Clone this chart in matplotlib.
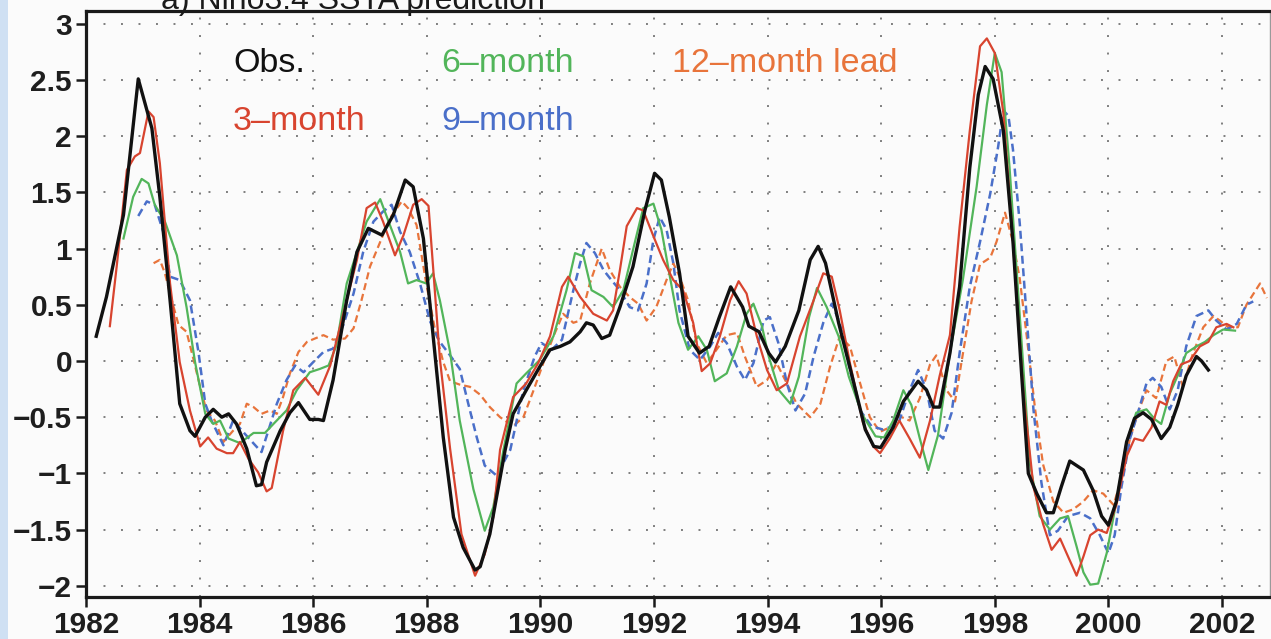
import matplotlib
matplotlib.use("Agg")
import matplotlib.pyplot as plt
from matplotlib.patches import Rectangle

plt.rcParams['font.family'] = ['Liberation Sans', 'DejaVu Sans']

# ---------------- data ----------------
obs_t = [1982.18, 1982.36, 1982.66, 1982.92, 1983.16, 1983.30, 1983.48, 1983.65, 1983.83, 1983.92,
         1984.10, 1984.24, 1984.39, 1984.51, 1984.65, 1984.83, 1985.00, 1985.09, 1985.18, 1985.42,
         1985.59, 1985.74, 1985.94, 1986.09, 1986.18, 1986.35, 1986.59, 1986.77, 1986.97, 1987.21,
         1987.41, 1987.62, 1987.76, 1987.94, 1988.11, 1988.29, 1988.47, 1988.64, 1988.85, 1988.94,
         1989.11, 1989.38, 1989.52, 1989.75, 1989.99, 1990.17, 1990.35, 1990.52, 1990.70, 1990.81,
         1990.93, 1991.08, 1991.22, 1991.40, 1991.63, 1991.84, 1992.01, 1992.13, 1992.27, 1992.45,
         1992.60, 1992.80, 1992.97, 1993.15, 1993.35, 1993.56, 1993.67, 1993.85, 1994.02, 1994.14,
         1994.31, 1994.55, 1994.75, 1994.89, 1995.02, 1995.25, 1995.49, 1995.72, 1995.87, 1995.99,
         1996.21, 1996.39, 1996.65, 1996.80, 1996.92, 1997.03, 1997.21, 1997.38, 1997.56, 1997.71,
         1997.83, 1997.97, 1998.15, 1998.32, 1998.47, 1998.59, 1998.74, 1998.91, 1999.03, 1999.17,
         1999.32, 1999.56, 1999.73, 1999.88, 2000.00, 2000.14, 2000.32, 2000.46, 2000.61, 2000.76,
         2000.93, 2001.08, 2001.22, 2001.37, 2001.55, 2001.64, 2001.76]
obs_v = [0.22, 0.57, 1.30, 2.51, 2.07, 1.46, 0.54, -0.38, -0.62, -0.67,
         -0.50, -0.43, -0.50, -0.47, -0.56, -0.78, -1.11, -1.10, -0.90, -0.62,
         -0.46, -0.37, -0.52, -0.52, -0.53, -0.17, 0.54, 0.97, 1.18, 1.12,
         1.30, 1.61, 1.55, 1.09, 0.23, -0.68, -1.39, -1.66, -1.86, -1.83,
         -1.54, -0.79, -0.47, -0.26, -0.05, 0.10, 0.13, 0.17, 0.26, 0.34,
         0.32, 0.20, 0.23, 0.48, 0.84, 1.34, 1.67, 1.61, 1.28, 0.78,
         0.22, 0.07, 0.13, 0.39, 0.66, 0.48, 0.31, 0.26, 0.07, -0.01,
         0.13, 0.45, 0.90, 1.02, 0.87, 0.34, -0.14, -0.61, -0.76, -0.77,
         -0.59, -0.36, -0.18, -0.26, -0.41, -0.41, 0.07, 0.66, 1.72, 2.37,
         2.62, 2.51, 2.05, 1.06, -0.10, -1.00, -1.18, -1.35, -1.35, -1.12,
         -0.89, -0.97, -1.15, -1.38, -1.46, -1.25, -0.72, -0.51, -0.46, -0.52,
         -0.69, -0.59, -0.39, -0.13, 0.04, 0.00, -0.08]

m3_t = [1982.42, 1982.54, 1982.72, 1982.86, 1982.95, 1983.10, 1983.19, 1983.30, 1983.48, 1983.65,
        1983.83, 1984.01, 1984.15, 1984.30, 1984.48, 1984.59, 1984.71, 1984.86, 1985.03, 1985.18,
        1985.27, 1985.47, 1985.65, 1985.86, 1986.09, 1986.30, 1986.53, 1986.77, 1986.94, 1987.09,
        1987.23, 1987.44, 1987.59, 1987.76, 1987.91, 1988.03, 1988.11, 1988.23, 1988.41, 1988.61,
        1988.85, 1989.02, 1989.17, 1989.29, 1989.52, 1989.75, 1989.96, 1990.17, 1990.38, 1990.49,
        1990.70, 1990.93, 1991.17, 1991.28, 1991.40, 1991.52, 1991.70, 1991.81, 1991.99, 1992.16,
        1992.34, 1992.51, 1992.69, 1992.84, 1992.99, 1993.16, 1993.34, 1993.49, 1993.63, 1993.81,
        1993.99, 1994.16, 1994.34, 1994.57, 1994.81, 1994.98, 1995.13, 1995.27, 1995.45, 1995.68,
        1995.86, 1995.98, 1996.15, 1996.32, 1996.50, 1996.68, 1996.86, 1997.03, 1997.21, 1997.38,
        1997.56, 1997.74, 1997.86, 1998.00, 1998.15, 1998.32, 1998.50, 1998.68, 1998.85, 1999.00,
        1999.15, 1999.29, 1999.44, 1999.56, 1999.68, 1999.82, 1999.97, 2000.14, 2000.32, 2000.46,
        2000.61, 2000.76, 2000.90, 2001.02, 2001.14, 2001.28, 2001.43, 2001.61, 2001.76, 2001.90,
        2002.08, 2002.20]
m3_v = [0.31, 0.84, 1.70, 1.82, 1.85, 2.22, 2.17, 1.76, 0.69, -0.01,
        -0.44, -0.76, -0.68, -0.78, -0.82, -0.82, -0.72, -0.87, -0.99, -1.16,
        -1.13, -0.62, -0.26, -0.15, -0.30, -0.04, 0.42, 0.90, 1.36, 1.41,
        1.24, 0.94, 1.12, 1.39, 1.44, 1.38, 0.84, 0.02, -0.78, -1.54,
        -1.91, -1.72, -1.39, -0.79, -0.32, -0.20, -0.02, 0.22, 0.66, 0.75,
        0.57, 0.42, 0.36, 0.45, 0.81, 1.20, 1.36, 1.34, 1.11, 0.90,
        0.72, 0.63, 0.34, -0.09, -0.02, 0.22, 0.54, 0.71, 0.60, 0.22,
        -0.08, -0.26, -0.20, 0.22, 0.54, 0.78, 0.75, 0.45, -0.02, -0.55,
        -0.76, -0.82, -0.69, -0.53, -0.69, -0.86, -0.53, -0.13, 0.23, 1.19,
        2.05, 2.80, 2.87, 2.74, 2.21, 1.06, -0.26, -1.12, -1.45, -1.68,
        -1.58, -1.74, -1.91, -1.74, -1.55, -1.50, -1.53, -1.28, -0.85, -0.69,
        -0.71, -0.59, -0.36, -0.39, -0.18, -0.03, 0.00, 0.13, 0.17, 0.30,
        0.33, 0.30]

m6_t = [1982.66, 1982.83, 1982.98, 1983.10, 1983.21, 1983.39, 1983.60, 1983.77, 1983.92, 1984.10,
        1984.24, 1984.36, 1984.51, 1984.71, 1984.95, 1985.15, 1985.30, 1985.53, 1985.71, 1985.94,
        1986.12, 1986.27, 1986.41, 1986.59, 1986.77, 1986.94, 1987.18, 1987.35, 1987.53, 1987.67,
        1987.82, 1987.99, 1988.11, 1988.23, 1988.41, 1988.58, 1988.82, 1989.02, 1989.17, 1989.35,
        1989.58, 1989.75, 1989.99, 1990.23, 1990.46, 1990.61, 1990.76, 1990.90, 1991.11, 1991.28,
        1991.46, 1991.66, 1991.81, 1991.99, 1992.13, 1992.28, 1992.43, 1992.60, 1992.78, 1992.93,
        1993.07, 1993.28, 1993.46, 1993.63, 1993.75, 1993.90, 1994.02, 1994.20, 1994.40, 1994.55,
        1994.73, 1994.87, 1995.04, 1995.25, 1995.43, 1995.66, 1995.90, 1996.05, 1996.21, 1996.39,
        1996.53, 1996.68, 1996.83, 1997.00, 1997.21, 1997.44, 1997.68, 1997.86, 1998.00, 1998.12,
        1998.26, 1998.44, 1998.62, 1998.79, 1998.97, 1999.15, 1999.29, 1999.44, 1999.56, 1999.68,
        1999.82, 1999.97, 2000.14, 2000.32, 2000.49, 2000.67, 2000.82, 2000.93, 2001.08, 2001.22,
        2001.37, 2001.55, 2001.70, 2001.85, 2002.02, 2002.23]
m6_v = [1.09, 1.46, 1.62, 1.58, 1.39, 1.24, 0.94, 0.48, -0.01, -0.47,
        -0.56, -0.53, -0.69, -0.73, -0.64, -0.64, -0.56, -0.44, -0.26, -0.10,
        -0.07, -0.04, 0.14, 0.69, 0.97, 1.24, 1.44, 1.21, 0.97, 0.69,
        0.72, 0.69, 0.78, 0.54, 0.08, -0.53, -1.14, -1.51, -1.30, -0.79,
        -0.20, -0.11, 0.01, 0.22, 0.63, 0.96, 0.93, 0.63, 0.57, 0.48,
        0.63, 1.05, 1.36, 1.40, 1.17, 0.75, 0.34, 0.10, 0.22, 0.10,
        -0.18, -0.11, 0.13, 0.42, 0.51, 0.31, 0.04, -0.26, -0.38, -0.14,
        0.39, 0.65, 0.48, 0.22, -0.14, -0.47, -0.67, -0.68, -0.53, -0.26,
        -0.39, -0.69, -0.97, -0.66, 0.07, 0.73, 1.55, 2.28, 2.74, 2.57,
        1.72, 0.40, -0.92, -1.38, -1.50, -1.40, -1.38, -1.65, -1.88, -1.99,
        -1.98, -1.71, -1.25, -0.72, -0.46, -0.43, -0.52, -0.56, -0.29, -0.13,
        0.07, 0.13, 0.17, 0.23, 0.28, 0.27]

m9_t = [1982.92, 1983.07, 1983.21, 1983.36, 1983.48, 1983.65, 1983.83, 1983.98, 1984.10, 1984.21,
        1984.42, 1984.59, 1984.80, 1984.98, 1985.09, 1985.21, 1985.36, 1985.53, 1985.68, 1985.83,
        1986.00, 1986.18, 1986.35, 1986.53, 1986.71, 1986.88, 1987.06, 1987.23, 1987.38, 1987.53,
        1987.70, 1987.88, 1988.06, 1988.23, 1988.41, 1988.58, 1988.73, 1988.88, 1989.02, 1989.23,
        1989.47, 1989.70, 1989.90, 1990.02, 1990.20, 1990.38, 1990.58, 1990.70, 1990.81, 1990.96,
        1991.11, 1991.25, 1991.40, 1991.57, 1991.72, 1991.87, 1991.99, 1992.10, 1992.22, 1992.34,
        1992.45, 1992.63, 1992.81, 1992.99, 1993.13, 1993.28, 1993.46, 1993.60, 1993.75, 1993.93,
        1994.04, 1994.19, 1994.34, 1994.49, 1994.66, 1994.81, 1994.98, 1995.13, 1995.27, 1995.45,
        1995.63, 1995.83, 1996.03, 1996.15, 1996.32, 1996.50, 1996.65, 1996.80, 1996.94, 1997.09,
        1997.24, 1997.38, 1997.56, 1997.74, 1997.92, 1998.06, 1998.15, 1998.24, 1998.32, 1998.44,
        1998.56, 1998.68, 1998.82, 1998.97, 1999.11, 1999.29, 1999.50, 1999.68, 1999.85, 2000.00,
        2000.11, 2000.23, 2000.38, 2000.52, 2000.67, 2000.78, 2000.93, 2001.08, 2001.22, 2001.37,
        2001.55, 2001.76, 2001.90, 2002.08, 2002.26, 2002.43, 2002.55]
m9_v = [1.29, 1.42, 1.39, 1.15, 0.75, 0.72, 0.54, 0.08, -0.38, -0.53,
        -0.75, -0.53, -0.65, -0.75, -0.81, -0.62, -0.38, -0.17, -0.04, -0.10,
        -0.01, 0.08, 0.11, 0.32, 0.60, 0.97, 1.24, 1.33, 1.39, 1.15,
        0.97, 0.69, 0.35, 0.17, 0.05, -0.07, -0.38, -0.68, -0.93, -1.02,
        -0.79, -0.26, 0.04, 0.16, 0.10, 0.19, 0.63, 0.87, 1.05, 0.96,
        0.81, 0.72, 0.63, 0.48, 0.45, 0.69, 1.08, 1.28, 1.17, 0.87,
        0.45, 0.10, 0.01, 0.13, 0.25, 0.16, -0.05, -0.17, -0.02, 0.36,
        0.39, 0.16, -0.20, -0.44, -0.29, 0.04, 0.34, 0.51, 0.34, -0.08,
        -0.44, -0.58, -0.61, -0.59, -0.53, -0.26, -0.08, -0.26, -0.62, -0.69,
        -0.46, 0.07, 0.66, 1.06, 1.49, 1.91, 2.23, 2.18, 1.88, 1.22,
        0.40, -0.43, -1.08, -1.55, -1.51, -1.38, -1.35, -1.40, -1.55, -1.71,
        -1.55, -1.12, -0.69, -0.46, -0.20, -0.15, -0.23, -0.43, -0.26, 0.13,
        0.40, 0.45, 0.36, 0.28, 0.33, 0.50, 0.53]

m12_t = [1983.19, 1983.30, 1983.39, 1983.51, 1983.63, 1983.77, 1983.89, 1984.01, 1984.12, 1984.27,
         1984.42, 1984.59, 1984.71, 1984.83, 1984.95, 1985.09, 1985.24, 1985.36, 1985.47, 1985.59,
         1985.74, 1985.89, 1986.03, 1986.18, 1986.35, 1986.56, 1986.71, 1986.85, 1987.00, 1987.18,
         1987.35, 1987.56, 1987.67, 1987.82, 1987.99, 1988.14, 1988.29, 1988.41, 1988.58, 1988.76,
         1988.94, 1989.11, 1989.29, 1989.52, 1989.70, 1989.88, 1990.05, 1990.23, 1990.40, 1990.58,
         1990.70, 1990.87, 1991.08, 1991.22, 1991.40, 1991.57, 1991.72, 1991.87, 1992.04, 1992.22,
         1992.34, 1992.45, 1992.60, 1992.75, 1992.93, 1993.10, 1993.28, 1993.46, 1993.60, 1993.81,
         1993.99, 1994.16, 1994.34, 1994.51, 1994.75, 1994.93, 1995.10, 1995.27, 1995.45, 1995.63,
         1995.80, 1995.98, 1996.15, 1996.32, 1996.50, 1996.68, 1996.86, 1996.97, 1997.15, 1997.30,
         1997.44, 1997.59, 1997.74, 1997.92, 1998.03, 1998.18, 1998.32, 1998.44, 1998.56, 1998.71,
         1998.85, 1999.03, 1999.21, 1999.38, 1999.56, 1999.73, 1999.91, 2000.09, 2000.23, 2000.38,
         2000.52, 2000.67, 2000.84, 2001.02, 2001.16, 2001.31, 2001.49, 2001.67, 2001.85, 2001.96,
         2002.11, 2002.28, 2002.43, 2002.67, 2002.79]
m12_v = [0.87, 0.90, 0.78, 0.54, 0.32, 0.26, 0.02, -0.23, -0.44, -0.53,
         -0.72, -0.62, -0.56, -0.38, -0.41, -0.47, -0.44, -0.47, -0.32, -0.11,
         0.08, 0.17, 0.20, 0.23, 0.19, 0.20, 0.29, 0.54, 0.84, 1.06,
         1.27, 1.42, 1.36, 1.21, 0.69, 0.29, -0.01, -0.18, -0.21, -0.23,
         -0.30, -0.41, -0.50, -0.58, -0.50, -0.26, -0.02, 0.22, 0.42, 0.34,
         0.36, 0.69, 1.00, 0.81, 0.66, 0.57, 0.51, 0.36, 0.48, 0.72,
         0.87, 0.75, 0.54, 0.16, -0.02, 0.10, 0.23, 0.25, 0.04, -0.23,
         -0.17, -0.02, -0.20, -0.38, -0.50, -0.38, -0.05, 0.22, 0.13, -0.20,
         -0.50, -0.63, -0.59, -0.49, -0.53, -0.33, -0.03, 0.05, -0.26, -0.36,
         0.07, 0.53, 0.86, 0.92, 1.06, 1.32, 1.06, 0.73, 0.23, -0.43,
         -0.92, -1.25, -1.35, -1.32, -1.25, -1.15, -1.18, -1.28, -1.05, -0.69,
         -0.46, -0.26, -0.33, 0.00, 0.04, -0.23, 0.07, 0.30, 0.40, 0.36,
         0.30, 0.30, 0.50, 0.69, 0.56]

year_ticks = [1982, 1984, 1986, 1988, 1990, 1992, 1994, 1996, 1998, 2000, 2002]
value_ticks = [3, 2.5, 2, 1.5, 1, 0.5, 0, -0.5, -1, -1.5, -2]
value_tick_labels = ['3', '2.5', '2', '1.5', '1', '0.5', '0', '\u22120.5', '\u22121', '\u22121.5', '\u22122']
title_text = 'a) Nino3.4 SSTA prediction'

# ---------------- figure ----------------
W, H = 1271, 639
fig = plt.figure(figsize=(W / 100, H / 100), dpi=100, facecolor='#fbfbfb')

# light-blue slide background strip on the left edge
fig.patches.append(Rectangle((0, 0), 8 / W, 1, transform=fig.transFigure,
                             facecolor='#cfe0f3', edgecolor='none', zorder=0))

ax_l, ax_r, ax_b, ax_t = 86, 1270, 597, 11
ax = fig.add_axes([ax_l / W, (H - ax_b) / H, (ax_r - ax_l) / W, (ax_b - ax_t) / H])
ax.set_facecolor('#fbfbfb')
px_per_year = 56.8
px_per_unit = 112.4
zero_y = 361
ax.set_xlim(1982, 1982 + (ax_r - ax_l) / px_per_year)
ax.set_ylim((zero_y - ax_b) / px_per_unit, (zero_y - ax_t) / px_per_unit)

# grid
grid_kw = dict(color='#7e7e7e', lw=1.4, ls=(0, (1, 8)), zorder=1)
ax.set_xticks(year_ticks)
ax.set_yticks(value_ticks)
ax.grid(True, **grid_kw)

# series
ax.plot(m12_t, m12_v, color='#e8743b', lw=1.6, ls=(0, (3.2, 1.8)), zorder=3)
ax.plot(m9_t, m9_v, color='#4a6fc9', lw=1.8, ls=(0, (3.2, 1.8)), zorder=4)
ax.plot(m6_t, m6_v, color='#52b55a', lw=1.6, zorder=5)
ax.plot(m3_t, m3_v, color='#d8442f', lw=1.6, zorder=6)
ax.plot(obs_t, obs_v, color='#111111', lw=2.4, zorder=7)

# spines & ticks
for s in ['left', 'bottom', 'top']:
    ax.spines[s].set_linewidth(2.3)
    ax.spines[s].set_color('#1a1a1a')
ax.spines['right'].set_linewidth(1.0)
ax.spines['right'].set_color('#9a9a9a')

tick_font = dict(family=['Liberation Sans', 'DejaVu Sans'], size=21.5, weight='bold')
ax.set_xticklabels([str(y) for y in year_ticks], **tick_font, color='#1e1e1e')
ax.set_yticklabels(value_tick_labels, **tick_font, color='#1e1e1e')
ax.tick_params(axis='both', which='major', direction='out', length=7, width=1.8,
               color='#1a1a1a', top=False, right=False)
ax.tick_params(axis='x', pad=3)
ax.tick_params(axis='y', pad=3)

# legend as coloured text
leg_font = dict(family=['Liberation Sans', 'DejaVu Sans'], size=24.5, va='center', ha='left')
ax.text(1984.59, 2.65, 'Obs.', color='#111111', **leg_font)
ax.text(1984.59, 2.13, '3\u2013month', color='#d8442f', **leg_font)
ax.text(1988.25, 2.65, '6\u2013month', color='#52b55a', **leg_font)
ax.text(1988.25, 2.13, '9\u2013month', color='#4a6fc9', **leg_font)
ax.text(1992.32, 2.65, '12\u2013month lead', color='#e8743b', **leg_font)

# title, mostly cut off by the top edge
fig.text(353 / W, 1 - 9 / H, title_text, ha='center', va='baseline',
         fontsize=23, color='#1a1a1a', family=['Liberation Sans', 'DejaVu Sans'], zorder=0)

fig.savefig('out.png', dpi=100, facecolor=fig.get_facecolor())
